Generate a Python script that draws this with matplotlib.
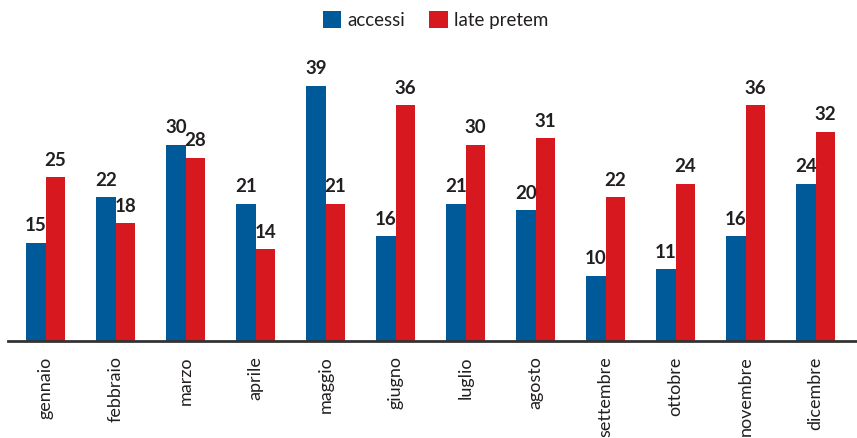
import matplotlib
matplotlib.use("Agg")
import matplotlib.pyplot as plt
import numpy as np

plt.rcParams['font.family'] = ['Lato', 'DejaVu Sans']

months = ["gennaio", "febbraio", "marzo", "aprile", "maggio", "giugno",
          "luglio", "agosto", "settembre", "ottobre", "novembre", "dicembre"]
accessi = [15, 22, 30, 21, 39, 16, 21, 20, 10, 11, 16, 24]
late_pretem = [25, 18, 28, 14, 21, 36, 30, 31, 22, 24, 36, 32]

blue = "#005a9a"
red = "#d7191f"
w = 0.28

fig = plt.figure(figsize=(8.57, 4.38), dpi=100)
# axes placed so baseline sits at ~341px from top
ax = fig.add_axes([8 / 857, (438 - 341) / 438, 849 / 857, 301 / 438])

x = np.arange(len(months))
b1 = ax.bar(x - w / 2, accessi, width=w, color=blue, label="accessi")
b2 = ax.bar(x + w / 2, late_pretem, width=w, color=red, label="late pretem")

for xi, v in zip(x, accessi):
    ax.text(xi - w / 2, v + 1.3, str(v), ha="center", va="bottom",
            fontsize=13.5, fontweight="bold", color="#231f20")
for xi, v in zip(x, late_pretem):
    ax.text(xi + w / 2, v + 1.3, str(v), ha="center", va="bottom",
            fontsize=13.5, fontweight="bold", color="#231f20")

ax.set_xlim(-0.54, 11.59)
ax.set_ylim(0, 46)
ax.set_xticks(x)
ax.set_xticklabels(months, rotation=90, fontsize=13, color="#231f20")
ax.tick_params(axis="x", length=0, pad=11)
ax.set_yticks([])
for s in ["top", "right", "left"]:
    ax.spines[s].set_visible(False)
ax.spines["bottom"].set_color("#333333")
ax.spines["bottom"].set_linewidth(2)

fig.legend(handles=[b1, b2], labels=["accessi", "late pretem"], loc="center",
           bbox_to_anchor=(0.508, 0.955), ncol=2, frameon=False, fontsize=13.5,
           handlelength=1.0, handleheight=1.0, handletextpad=0.3, columnspacing=1.3,
           labelcolor="#231f20")

fig.savefig("out.png", dpi=100)
